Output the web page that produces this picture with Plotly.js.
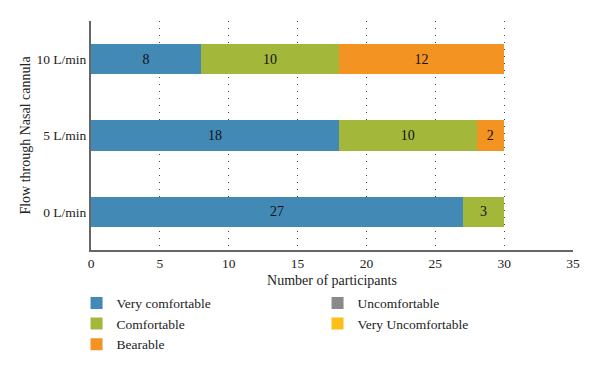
<!DOCTYPE html>
<html><head><meta charset="utf-8">
<script src="https://cdn.plot.ly/plotly-3.0.1.min.js"></script>
<style>html,body{margin:0;padding:0;background:#fff}#c{width:600px;height:369px}</style>
</head><body><div id="c"></div>
<script>
const categories = ['0 L/min', '5 L/min', '10 L/min'];
const veryComfortable = [27, 18, 8];
const comfortable = [3, 10, 10];
const bearable = [0, 2, 12];
const uncomfortable = [0, 0, 0];
const veryUncomfortable = [0, 0, 0];
const xTicks = [0, 5, 10, 15, 20, 25, 30, 35];

const F = 'Liberation Serif, Times New Roman, serif';
function tr(name, vals, color, leg) {
  return {
    type: 'bar', orientation: 'h', name: name, y: categories, x: vals,
    marker: {color: color, line: {width: 0}},
    text: vals.map(v => v ? String(v) : ''), textposition: 'inside',
    insidetextanchor: 'middle', textfont: {color: '#111', size: 14, family: F},
    constraintext: 'none', legend: leg, hoverinfo: 'x+name'
  };
}
const data = [
  tr('Very comfortable', veryComfortable, '#4389b6', 'legend'),
  tr('Comfortable', comfortable, '#a3b73b', 'legend'),
  tr('Bearable', bearable, '#f39321', 'legend'),
  tr('Uncomfortable', uncomfortable, '#8a8a8a', 'legend2'),
  tr('Very Uncomfortable', veryUncomfortable, '#fbbf17', 'legend2')
];
const legBase = {orientation: 'v', yanchor: 'top', xanchor: 'left', y: -0.165, traceorder: 'normal',
  font: {family: F, size: 13.5, color: '#222'}, bgcolor: 'rgba(0,0,0,0)', tracegroupgap: 0, itemwidth: 30};
const layout = {
  width: 600, height: 369,
  margin: {l: 91, r: 27, t: 21, b: 119, autoexpand: false},
  barmode: 'stack', bargap: 0.6,
  paper_bgcolor: '#fff', plot_bgcolor: '#fff',
  font: {family: F, size: 13, color: '#222'},
  xaxis: {range: [0, 35], tickvals: xTicks, ticktext: xTicks.map(String), showgrid: true,
    gridcolor: '#444', griddash: '1px,6px', gridwidth: 1, zeroline: false, automargin: false,
    showline: true, linecolor: '#666', linewidth: 2, ticks: '', ticklen: 0, ticklabelstandoff: 0,
    tickfont: {family: F, size: 13.5, color: '#222'},
    title: {text: 'Number of participants', font: {family: F, size: 14, color: '#222'}, standoff: 5}},
  yaxis: {categoryorder: 'array', categoryarray: categories, showgrid: false, zeroline: false, automargin: false,
    showline: true, linecolor: '#666', linewidth: 2, ticks: '', ticklen: 0,
    tickfont: {family: F, size: 13.5, color: '#222'},
    title: {text: 'Flow through Nasal cannula', font: {family: F, size: 14, color: '#222'}, standoff: 3}},
  legend: Object.assign({}, legBase, {x: -0.03}),
  legend2: Object.assign({}, legBase, {x: 0.47}),
  showlegend: true
};
Plotly.newPlot('c', data, layout, {displayModeBar: false, staticPlot: true});
</script></body></html>
